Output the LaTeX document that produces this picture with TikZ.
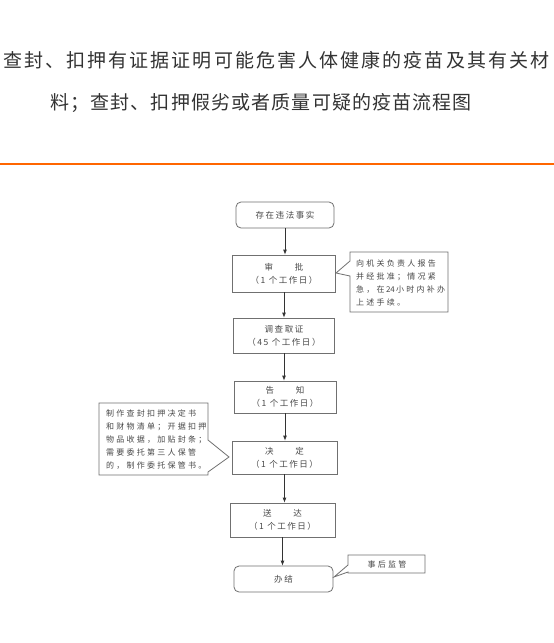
\documentclass[tikz,border=0pt]{standalone}
\usepackage{fontspec}
\setmainfont{Noto Sans CJK SC}
\newfontfamily\titleA[LetterSpace=11]{Noto Sans CJK SC}
\newfontfamily\titleB[LetterSpace=6]{Noto Sans CJK SC}
\newfontfamily\boxfont[LetterSpace=18]{Noto Sans CJK SC}
\newfontfamily\notefont[LetterSpace=28]{Noto Sans CJK SC}
\usetikzlibrary{arrows.meta}
\definecolor{linegray}{HTML}{707070}
\definecolor{txtgray}{HTML}{484848}
\definecolor{titlegray}{HTML}{333333}
\definecolor{orangeline}{HTML}{FF6600}
\begin{document}
\begin{tikzpicture}[x=1pt,y=-1pt,
  flowbox/.style={draw=linegray, line width=0.8pt, text=txtgray, font=\boxfont\fontsize{8.5}{13}\selectfont, align=center, inner sep=0pt},
  roundbox/.style={flowbox, rounded corners=5pt},
  notebox/.style={draw=linegray, line width=0.8pt, line join=miter},
  notetext/.style={text=txtgray, font=\notefont\fontsize{8}{12.8}\selectfont, align=left, inner sep=0pt},
  arr/.style={draw=black!80, line width=0.8pt, -{Latex[length=5pt,width=4pt]}},
  titletext/.style={text=titlegray, inner sep=0pt, anchor=west}
]
\useasboundingbox (0,0) rectangle (554,643);
\fill[white] (0,0) rectangle (554,643);

% title
\node[titletext, font=\titleA\fontsize{19}{22}\selectfont] (t1) at (3,60) {查封、扣押有证据证明可能危害人体健康的疫苗及其有关材};
\node[titletext, font=\titleB\fontsize{19}{22}\selectfont] (t2) at (50,103) {料；查封、扣押假劣或者质量可疑的疫苗流程图};
\coordinate (ol) at (0,164);
\coordinate (or) at (554,164);
\draw[orangeline, line width=1.2pt] (ol) -- (or);

% flow boxes
\node[roundbox, minimum width=98pt, minimum height=26pt] (b1) at (285,215) {存在违法事实};
\node[flowbox, minimum width=103pt, minimum height=37pt] (b2) at (284,273.5) {审　　批\\（1 个工作日）};
\node[flowbox, minimum width=101pt, minimum height=35pt] (b3) at (284,335.5) {调查取证\\（45 个工作日）};
\node[flowbox, minimum width=102pt, minimum height=32pt] (b4) at (285,397) {告　　知\\（1 个工作日）};
\node[flowbox, minimum width=105pt, minimum height=33pt] (b5) at (284.5,457.5) {决　　定\\（1 个工作日）};
\node[flowbox, minimum width=105pt, minimum height=34pt] (b6) at (282.5,520) {送　　达\\（1 个工作日）};
\node[roundbox, minimum width=99pt, minimum height=26pt] (b7) at (283.5,579) {办结};

% arrows
\draw[arr] (b1.south) -- (b1.south |- b2.north);
\draw[arr] (b2.south) -- (b2.south |- b3.north);
\draw[arr] (b3.south) -- (b3.south |- b4.north);
\draw[arr] (b4.south) -- (b4.south |- b5.north);
\draw[arr] (b5.south) -- (b5.south |- b6.north);
\draw[arr] (b6.south) -- (b6.south |- b7.north);

% callout 1
\coordinate (p1) at (336,273);
\draw[notebox] (350,261) -- (p1) -- (350,276) -- (350,312) -- (448,312) -- (448,252) -- (350,252) -- cycle;
\node[notetext, anchor=west] (n1) at (356,283) {向机关负责人报告\\并经批准；情况紧\\急，在{\addfontfeature{LetterSpace=0}\,24\,}小时内补办\\上述手续。};

% callout 2
\coordinate (p2) at (229,457);
\draw[notebox] (208,440) -- (p2) -- (208,472) -- (208,475) -- (99,475) -- (99,403) -- (208,403) -- cycle;
\node[notetext, anchor=west] (n2) at (106,439.5) {制作查封扣押决定书\\和财物清单；开据扣押\\物品收据，加贴封条；\\需要委托第三人保管\\的，制作委托保管书。};

% callout 3
\coordinate (p3) at (334,577);
\draw[notebox] (348,565) -- (p3) -- (348,572) -- (348,573) -- (425,573) -- (425,555) -- (348,555) -- cycle;
\node[notetext, anchor=center] (n3) at (387,564) {事后监管};
\end{tikzpicture}
\end{document}
